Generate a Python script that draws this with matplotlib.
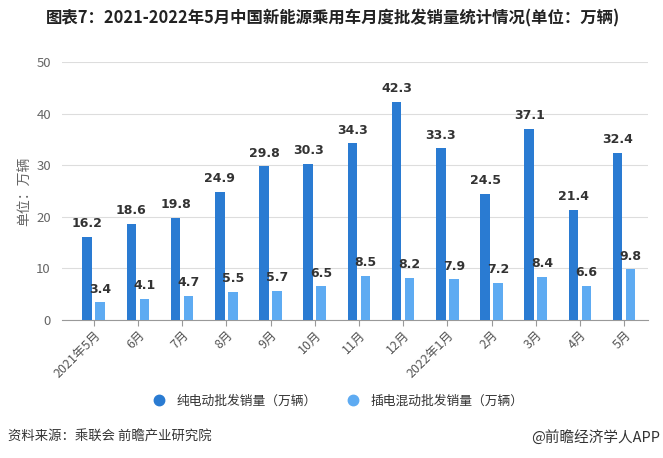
import matplotlib
matplotlib.use("Agg")
import matplotlib.pyplot as plt
from matplotlib.lines import Line2D
import numpy as np

plt.rcParams['font.family'] = ['Noto Sans CJK SC', 'DejaVu Sans']

categories = ["2021年5月", "6月", "7月", "8月", "9月", "10月", "11月", "12月",
              "2022年1月", "2月", "3月", "4月", "5月"]
bev = [16.2, 18.6, 19.8, 24.9, 29.8, 30.3, 34.3, 42.3, 33.3, 24.5, 37.1, 21.4, 32.4]
phev = [3.4, 4.1, 4.7, 5.5, 5.7, 6.5, 8.5, 8.2, 7.9, 7.2, 8.4, 6.6, 9.8]
series_names = ["纯电动批发销量（万辆）", "插电混动批发销量（万辆）"]
yticks = [0, 10, 20, 30, 40, 50]

c_dark = "#2a7bd2"
c_light = "#5eabf2"

fig = plt.figure(figsize=(6.63, 4.58), dpi=100)
ax = fig.add_axes([62/663, 1-320/458, (648-62)/663, (320-62.3)/458])

x = np.arange(len(categories))
w = 0.22
off = 0.147
ax.bar(x - off, bev, width=w, color=c_dark, zorder=3)
ax.bar(x + off, phev, width=w, color=c_light, zorder=3)

for xi, v in zip(x, bev):
    ax.text(xi - off, v + 1.3, f"{v}", ha='center', va='bottom', fontsize=9,
            fontweight='bold', color='#333333', family='DejaVu Sans')
for xi, v in zip(x, phev):
    ax.text(xi + off, v + 1.3, f"{v}", ha='center', va='bottom', fontsize=9,
            fontweight='bold', color='#333333', family='DejaVu Sans')

ax.set_xlim(-0.717, 12.54)
ax.set_ylim(0, 50)
ax.set_yticks(yticks)
ax.set_yticklabels([str(t) for t in yticks], fontsize=9.5, color='#666666')
ax.grid(axis='y', color='#dddddd', linewidth=0.8, zorder=0)
for s in ['top', 'right', 'left']:
    ax.spines[s].set_visible(False)
ax.spines['bottom'].set_color('#999999')
ax.spines['bottom'].set_linewidth(0.8)
ax.tick_params(axis='y', length=0, pad=8)
ax.tick_params(axis='x', length=4, color='#999999', pad=2)
ax.set_xticks(x)
ax.set_xticklabels(categories, rotation=45, ha='right', rotation_mode='anchor',
                   fontsize=9, color='#555555')

ax.set_ylabel("单位：万辆", fontsize=10, color='#666666', labelpad=3)

fig.text(0.502, 1-18/458, "图表7：2021-2022年5月中国新能源乘用车月度批发销量统计情况(单位：万辆)",
         ha='center', va='center', fontsize=11.8, fontweight='bold', color='#222222')

handles = [Line2D([0], [0], marker='o', linestyle='', markersize=7.5, color=c_dark),
           Line2D([0], [0], marker='o', linestyle='', markersize=7.5, color=c_light)]
fig.legend(handles, series_names, loc='center', bbox_to_anchor=(0.505, 1-401/458),
           ncol=2, frameon=False, fontsize=9.2, handletextpad=0.4, columnspacing=1.8,
           labelcolor='#333333')

fig.text(8/663, 1-437/458, "资料来源：乘联会 前瞻产业研究院", ha='left', va='center',
         fontsize=9.6, color='#333333')
fig.text(660/663, 1-437/458, "@前瞻经济学人APP", ha='right', va='center',
         fontsize=10.5, color='#333333')

fig.savefig("out.png", dpi=100)
